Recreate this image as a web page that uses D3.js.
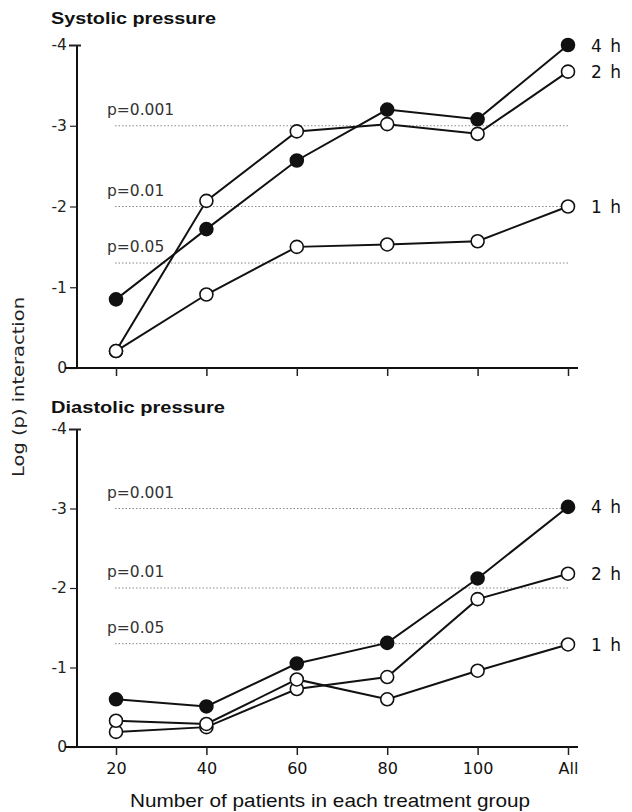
<!DOCTYPE html>
<html><head><meta charset="utf-8">
<script src="https://cdn.jsdelivr.net/npm/d3@7"></script>
<style>body{margin:0;background:#fff}svg{display:block}</style>
</head><body>
<svg id="c" width="632" height="812"></svg>
<script>
const categories = ["20","40","60","80","100","All"];
const yTicks = [0,-1,-2,-3,-4];
const yTickLabels = ["0","-1","-2","-3","-4"];
const refValues = [-3,-2,-1.3];
const refLabels = ["p=0.001","p=0.01","p=0.05"];
const seriesNames = ["4 h","2 h","1 h"];
const seriesFilled = [true,false,false];
const sys4h = [-0.85,-1.72,-2.57,-3.2,-3.08,-4.0];
const sys2h = [-0.21,-2.07,-2.93,-3.02,-2.9,-3.67];
const sys1h = [-0.21,-0.91,-1.5,-1.53,-1.57,-2.0];
const dia4h = [-0.6,-0.51,-1.05,-1.31,-2.12,-3.02];
const dia2h = [-0.19,-0.25,-0.73,-0.88,-1.86,-2.18];
const dia1h = [-0.33,-0.29,-0.85,-0.6,-0.96,-1.29];
const panelTitles = ["Systolic pressure","Diastolic pressure"];

const svg = d3.select("#c");
const x = d3.scalePoint().domain(categories).range([116,568]);
const font = "'Liberation Sans', Arial, sans-serif";
const wide = "'DejaVu Sans', sans-serif";

const panels = [
  {title:panelTitles[0], series:[sys4h,sys2h,sys1h], y0:368, y4:45, titleY:24, xLabels:false},
  {title:panelTitles[1], series:[dia4h,dia2h,dia1h], y0:747, y4:429, titleY:413, xLabels:true}
];

panels.forEach(p=>{
  const y = d3.scaleLinear().domain([0,-4]).range([p.y0,p.y4]);
  const g = svg.append("g");
  g.append("text").attr("x",51).attr("y",p.titleY).text(p.title)
    .attr("font-family",font).attr("font-weight","bold").attr("font-size",17)
    .attr("textLength",p.title.length>17?174:165).attr("lengthAdjust","spacingAndGlyphs").attr("fill","#111");
  refValues.forEach((v,i)=>{
    g.append("line").attr("x1",115).attr("x2",570).attr("y1",y(v)).attr("y2",y(v))
      .attr("stroke","#888").attr("stroke-width",1).attr("stroke-dasharray","1.5,2");
    g.append("text").attr("x",107).attr("y",y(v)-11).text(refLabels[i])
      .attr("font-family",wide).attr("font-size",15.5).attr("fill","#333");
  });
  const ya = d3.axisLeft(y).tickValues(yTicks).tickSize(7).tickPadding(3)
    .tickFormat((d,i)=>yTickLabels[i]);
  const yg = g.append("g").attr("transform","translate(77,0)").call(ya);
  yg.select(".domain").attr("d",`M0,${p.y4}V${p.y0}`).attr("stroke","#111").attr("stroke-width",2);
  yg.selectAll(".tick line").attr("stroke","#222").attr("stroke-width",1.2);
  yg.selectAll(".tick").filter(d=>d===-4).select("line").attr("x1",4).attr("x2",-8).attr("stroke-width",2);
  yg.selectAll(".tick text").attr("font-family",wide).attr("font-size",15.5).attr("fill","#222");
  const xa = d3.axisBottom(x).tickSize(8).tickPadding(8);
  if(!p.xLabels) xa.tickFormat("");
  const xg = g.append("g").attr("transform",`translate(0,${p.y0})`).call(xa);
  xg.select(".domain").attr("d","M65,0H578").attr("stroke","#111").attr("stroke-width",2.2);
  xg.selectAll(".tick line").attr("stroke","#222").attr("stroke-width",1.5);
  xg.selectAll(".tick text").attr("font-family",wide).attr("font-size",16).attr("fill","#111");
  const line = d3.line().x((d,i)=>x(categories[i])).y(d=>y(d));
  p.series.forEach((s,k)=>{
    g.append("path").datum(s).attr("d",line).attr("fill","none")
      .attr("stroke","#111").attr("stroke-width",2);
  });
  p.series.forEach((s,k)=>{
    g.selectAll(null).data(s).enter().append("circle")
      .attr("cx",(d,i)=>x(categories[i])).attr("cy",d=>y(d)).attr("r",6.5)
      .attr("fill",seriesFilled[k]?"#111":"#fff").attr("stroke","#111").attr("stroke-width",1.6);
    const last = s[s.length-1];
    g.append("text").attr("x",591).attr("y",y(last)+6.5).text(seriesNames[k])
      .attr("font-family",wide).attr("font-size",17).attr("letter-spacing",1.5).attr("fill","#111");
  });
});

svg.append("text").attr("transform","translate(24,387) rotate(-90)")
  .attr("text-anchor","middle").text("Log (p) interaction")
  .attr("font-family",wide).attr("font-size",16.5).attr("fill","#222")
  .attr("textLength",180).attr("lengthAdjust","spacingAndGlyphs");
svg.append("text").attr("x",330).attr("y",807).attr("text-anchor","middle")
  .text("Number of patients in each treatment group")
  .attr("font-family",font).attr("font-size",18.5).attr("fill","#111")
  .attr("textLength",400).attr("lengthAdjust","spacingAndGlyphs");
</script>
</body></html>
